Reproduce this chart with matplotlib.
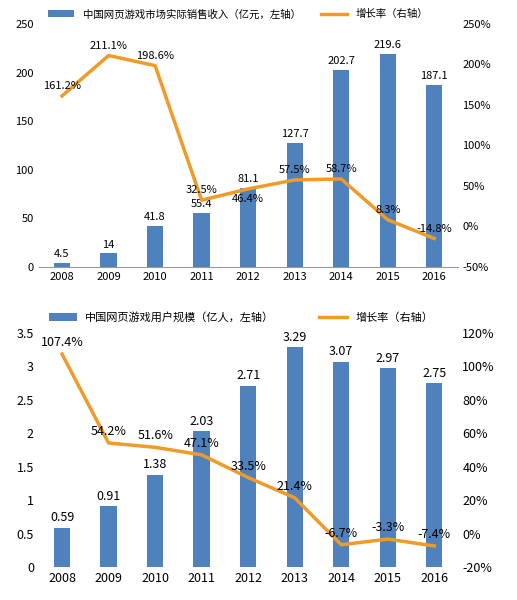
import numpy as np
import matplotlib.pyplot as plt
from matplotlib.ticker import FuncFormatter

plt.rcParams['font.family'] = ['Noto Sans CJK SC', 'DejaVu Sans']

years = ['2008', '2009', '2010', '2011', '2012', '2013', '2014', '2015', '2016']
revenue = [4.5, 14, 41.8, 55.4, 81.1, 127.7, 202.7, 219.6, 187.1]
rev_growth = [161.2, 211.1, 198.6, 32.5, 46.4, 57.5, 58.7, 8.3, -14.8]
users = [0.59, 0.91, 1.38, 2.03, 2.71, 3.29, 3.07, 2.97, 2.75]
user_growth = [107.4, 54.2, 51.6, 47.1, 33.5, 21.4, -6.7, -3.3, -7.4]

bar_c = '#4f81bd'
line_c = '#f09a28'
pct = FuncFormatter(lambda v, p: '%d%%' % v)

fig = plt.figure(figsize=(5.17, 6.0), dpi=100)
x = np.arange(len(years))

# top chart
ax1 = fig.add_axes([0.075, 0.555, 0.81, 0.405])
ax1.bar(x, revenue, width=0.35, color=bar_c, label='中国网页游戏市场实际销售收入（亿元，左轴）')
ax1.set_ylim(0, 250)
ax1.set_xlim(-0.5, 8.5)
ax1.set_xticks(x, years)
for i, v in enumerate(revenue):
    ax1.text(i, v + 4, '%g' % v, ha='center', va='bottom', fontsize=8)
ax1r = ax1.twinx()
ax1r.plot(x, rev_growth, color=line_c, lw=2.5, label='增长率（右轴）')
ax1r.set_ylim(-50, 250)
ax1r.yaxis.set_major_formatter(pct)
for i, v in enumerate(rev_growth):
    if i == 4:
        ax1r.text(i, v - 6, '%.1f%%' % v, ha='center', va='top', fontsize=8)
    else:
        ax1r.text(i, v + 6, '%.1f%%' % v, ha='center', va='bottom', fontsize=8)
for a in (ax1, ax1r):
    a.tick_params(labelsize=8, length=0)
    for s in a.spines.values():
        s.set_visible(False)
ax1.spines['bottom'].set_visible(True)
ax1.spines['bottom'].set_color('#999999')
h1, l1 = ax1.get_legend_handles_labels()
h2, l2 = ax1r.get_legend_handles_labels()
ax1.legend(h1 + h2, l1 + l2, loc='lower left', bbox_to_anchor=(0.0, 0.98), ncol=2,
           frameon=False, fontsize=7.5, handlelength=2.5, columnspacing=2)

# bottom chart
ax2 = fig.add_axes([0.075, 0.055, 0.81, 0.39])
ax2.bar(x, users, width=0.35, color=bar_c, label='中国网页游戏用户规模（亿人，左轴）')
ax2.set_ylim(0, 3.5)
ax2.set_xlim(-0.5, 8.5)
ax2.set_xticks(x, years)
ax2.yaxis.set_major_formatter(FuncFormatter(lambda v, p: '%g' % v))
for i, v in enumerate(users):
    ax2.text(i, v + 0.05, '%g' % v, ha='center', va='bottom', fontsize=9)
ax2r = ax2.twinx()
ax2r.plot(x, user_growth, color=line_c, lw=2.5, label='增长率（右轴）')
ax2r.set_ylim(-20, 120)
ax2r.yaxis.set_major_formatter(pct)
for i, v in enumerate(user_growth):
    ax2r.text(i, v + 3, '%.1f%%' % v, ha='center', va='bottom', fontsize=9)
for a in (ax2, ax2r):
    a.tick_params(labelsize=9, length=0)
    for s in a.spines.values():
        s.set_visible(False)
h1, l1 = ax2.get_legend_handles_labels()
h2, l2 = ax2r.get_legend_handles_labels()
ax2.legend(h1 + h2, l1 + l2, loc='lower left', bbox_to_anchor=(0.0, 1.0), ncol=2,
           frameon=False, fontsize=8, handlelength=2.5, columnspacing=4)

fig.savefig('out.png')
